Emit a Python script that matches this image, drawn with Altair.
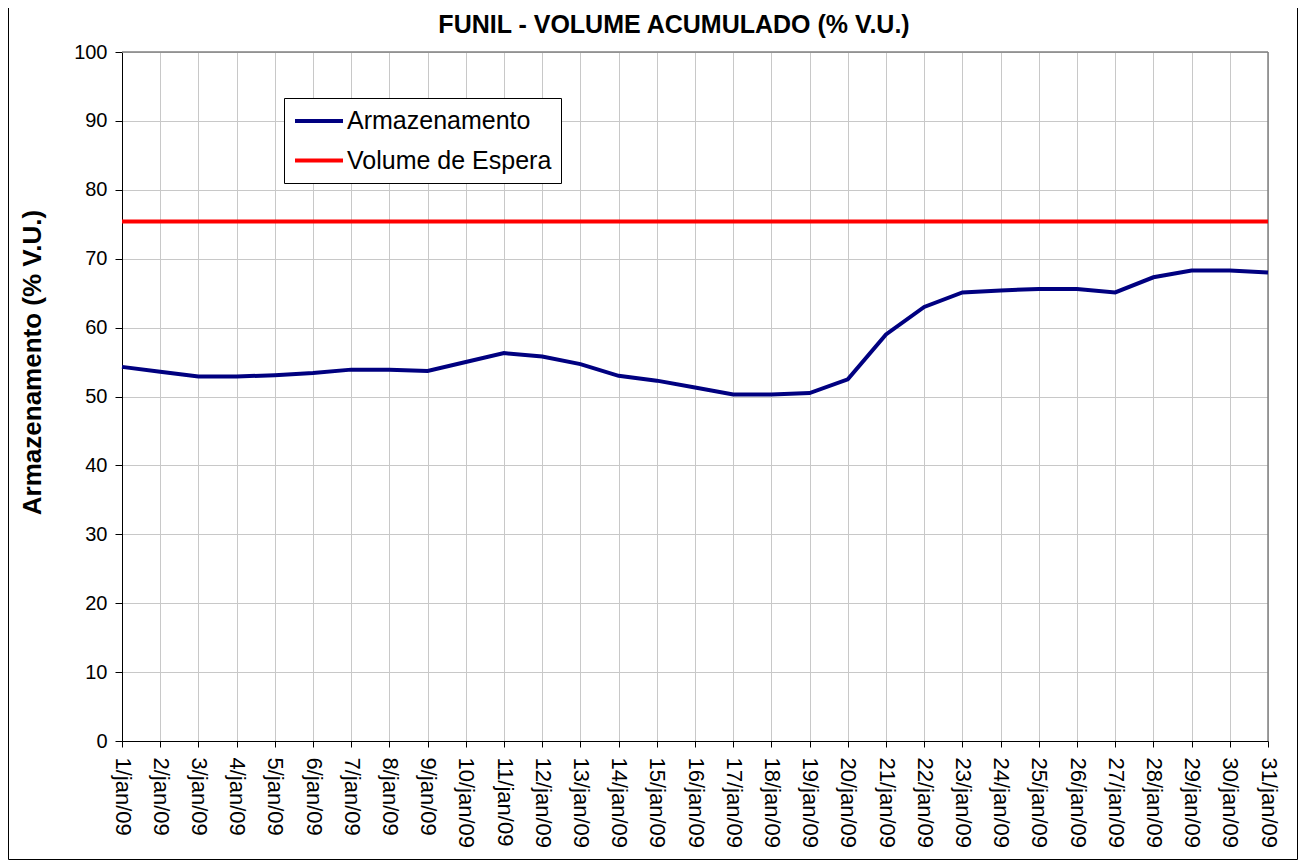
import altair as alt
import pandas as pd

# ---- data ----
days = [f"{d}/jan/09" for d in range(1, 32)]
armazenamento = [54.3, 53.6, 52.9, 52.9, 53.1, 53.4, 53.9, 53.9, 53.7, 55.0,
                 56.3, 55.8, 54.7, 53.0, 52.3, 51.3, 50.3, 50.3, 50.5, 52.5,
                 59.0, 63.0, 65.1, 65.4, 65.6, 65.6, 65.1, 67.3, 68.3, 68.3, 68.0]
volume_espera = [75.4] * 31
series_names = ["Armazenamento", "Volume de Espera"]
series_colors = ["#000080", "#FF0000"]
y_ticks = [0, 10, 20, 30, 40, 50, 60, 70, 80, 90, 100]

df = pd.DataFrame({
    "dia": days * 2,
    "valor": armazenamento + volume_espera,
    "serie": [series_names[0]] * 31 + [series_names[1]] * 31,
})

W, H = 1146, 689
FONT = "Liberation Sans"

lines = alt.Chart(df).mark_line(strokeWidth=4, clip=False).encode(
    x=alt.X("dia:O", sort=days,
            scale=alt.Scale(type="point", padding=0),
            axis=alt.Axis(title=None, labelAngle=90, labelFontSize=22, labelFont=FONT,
                          labelColor="black", labelPadding=10, tickSize=6,
                          tickColor="black", domainColor="black", grid=True,
                          gridColor="#c8c8c8", labelOverlap=False)),
    y=alt.Y("valor:Q",
            scale=alt.Scale(domain=[0, 100], nice=False),
            axis=alt.Axis(values=y_ticks, title="Armazenamento (% V.U.)",
                          titleFontSize=26, titleFont=FONT, titleFontWeight="bold",
                          titleColor="black", titleX=-82, titleY=310,
                          titleAlign="center", titleBaseline="alphabetic",
                          titleAngle=270,
                          labelFontSize=20, labelFont=FONT, labelColor="black",
                          labelPadding=8, tickSize=7, tickColor="black",
                          domainColor="black", grid=True, gridColor="#c8c8c8")),
    color=alt.Color("serie:N", sort=series_names,
                    scale=alt.Scale(domain=series_names, range=series_colors),
                    legend=alt.Legend(title=None, orient="none", legendX=162, legendY=46,
                                      fillColor="white", strokeColor="black",
                                      padding=9, labelFontSize=25, labelFont=FONT,
                                      labelColor="black", labelLimit=500,
                                      symbolStrokeWidth=4, symbolSize=576,
                                      symbolType="M-1,0L3,0",
                                      labelOffset=26, rowPadding=12.5)),
)

frame_df = pd.DataFrame({"k": [0]})
top_border = alt.Chart(frame_df).mark_rule(stroke="#808080", strokeWidth=1.5).encode(
    x=alt.value(0), x2=alt.value(W), y=alt.value(0)
)
right_border = alt.Chart(frame_df).mark_rule(stroke="#808080", strokeWidth=1.5).encode(
    x=alt.value(W), y=alt.value(0), y2=alt.value(H)
)
outer_border = alt.Chart(frame_df).mark_rect(fill=None, stroke="black", strokeWidth=1).encode(
    x=alt.value(-113.5), x2=alt.value(1175.5), y=alt.value(-44.5), y2=alt.value(807.5)
)

chart = alt.layer(top_border, right_border, outer_border, lines).properties(
    width=W, height=H,
    autosize=alt.AutoSizeParams(type="none"),
    padding={"left": 114, "top": 44, "right": 30, "bottom": 120},
    title=alt.TitleParams("FUNIL - VOLUME ACUMULADO (% V.U.)", fontSize=25,
                          fontWeight="bold", font=FONT, color="black",
                          anchor="middle", frame="group", offset=-51,
                          baseline="alphabetic", dx=-21),
).configure_view(stroke=None).configure(background="white")

chart.save("out.html", embed_options={"renderer": "svg", "actions": False})
